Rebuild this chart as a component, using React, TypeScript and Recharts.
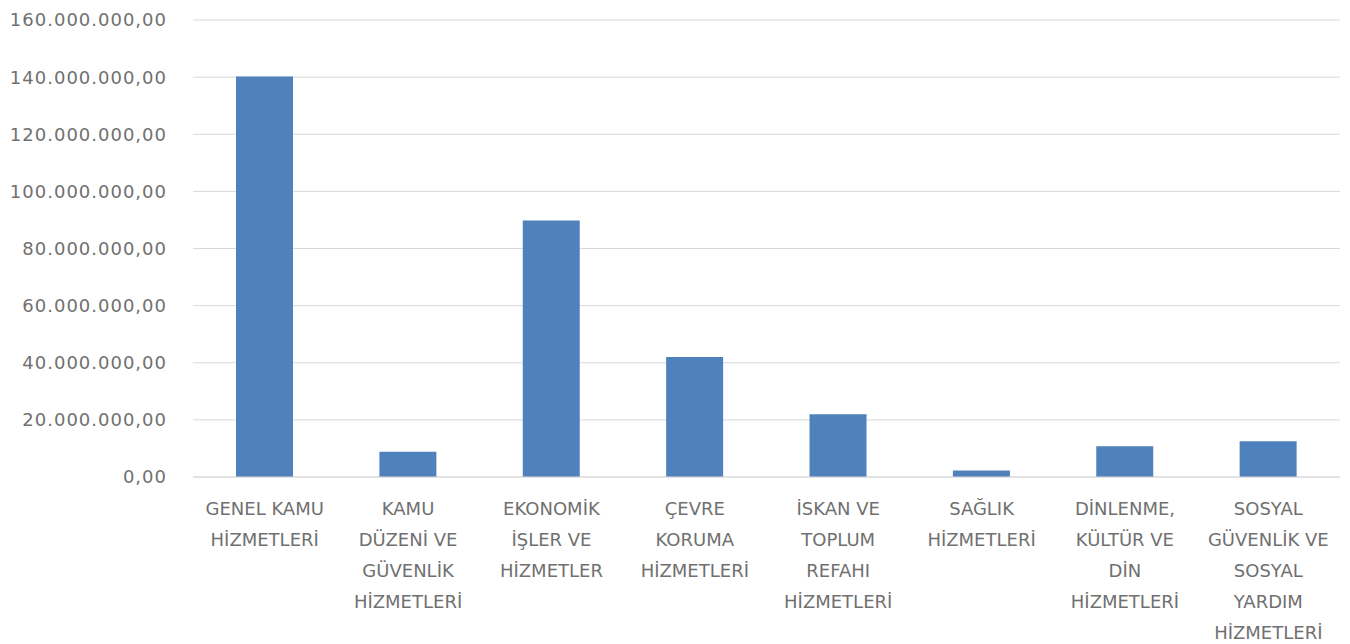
import { BarChart, Bar, XAxis, YAxis, CartesianGrid } from "recharts";

// category labels, already wrapped into lines as in the original
const categoryLines: string[][] = [
  ["GENEL KAMU", "HİZMETLERİ"],
  ["KAMU", "DÜZENİ VE", "GÜVENLİK", "HİZMETLERİ"],
  ["EKONOMİK", "İŞLER VE", "HİZMETLER"],
  ["ÇEVRE", "KORUMA", "HİZMETLERİ"],
  ["İSKAN VE", "TOPLUM", "REFAHI", "HİZMETLERİ"],
  ["SAĞLIK", "HİZMETLERİ"],
  ["DİNLENME,", "KÜLTÜR VE", "DİN", "HİZMETLERİ"],
  ["SOSYAL", "GÜVENLİK VE", "SOSYAL", "YARDIM", "HİZMETLERİ"],
];

const categories = categoryLines.map((lines) => lines.join(" "));

const amounts = [
  140200000, 8800000, 89800000, 42000000, 22000000, 2300000, 10800000, 12500000,
];

const yTicks = [0, 20000000, 40000000, 60000000, 80000000, 100000000, 120000000, 140000000, 160000000];

const data = categories.map((name, i) => ({ name, lines: categoryLines[i], value: amounts[i] }));

const FONT = "'DejaVu Sans', sans-serif";
const TEXT_COLOR = "#707070";

function formatTr(v: number) {
  const intPart = Math.round(v).toString().replace(/\B(?=(\d{3})+(?!\d))/g, ".");
  return `${intPart},00`;
}

function CategoryTick(props: any) {
  const { x, y, index } = props;
  const lines = categoryLines[index] || [];
  return (
    <text
      x={x}
      y={y}
      textAnchor="middle"
      fill={TEXT_COLOR}
      fontFamily={FONT}
      fontSize={18}
    >
      {lines.map((line, i) => (
        <tspan key={i} x={x} dy={i === 0 ? 30 : 31}>
          {line}
        </tspan>
      ))}
    </text>
  );
}

export default function App() {
  return (
    <div style={{ position: "absolute", left: 0, top: 0, width: 1350, height: 644, background: "#ffffff" }}>
      <BarChart
        width={1350}
        height={644}
        data={data}
        margin={{ top: 20, right: 10, left: 0, bottom: 0 }}
        barCategoryGap="30%"
      >
        <CartesianGrid vertical={false} stroke="#d9d9d9" />
        <XAxis
          dataKey="name"
          height={167}
          interval={0}
          tickLine={false}
          axisLine={{ stroke: "#d9d9d9" }}
          tick={<CategoryTick />}
        />
        <YAxis
          width={193}
          domain={[0, 160000000]}
          ticks={yTicks}
          tickFormatter={formatTr}
          axisLine={false}
          tickLine={false}
          tickSize={0}
          tickMargin={26}
          tick={{ fill: TEXT_COLOR, fontFamily: FONT, fontSize: 18, letterSpacing: 1 }}
        />
        <Bar dataKey="value" fill="#4f81bd" isAnimationActive={false} />
      </BarChart>
    </div>
  );
}
